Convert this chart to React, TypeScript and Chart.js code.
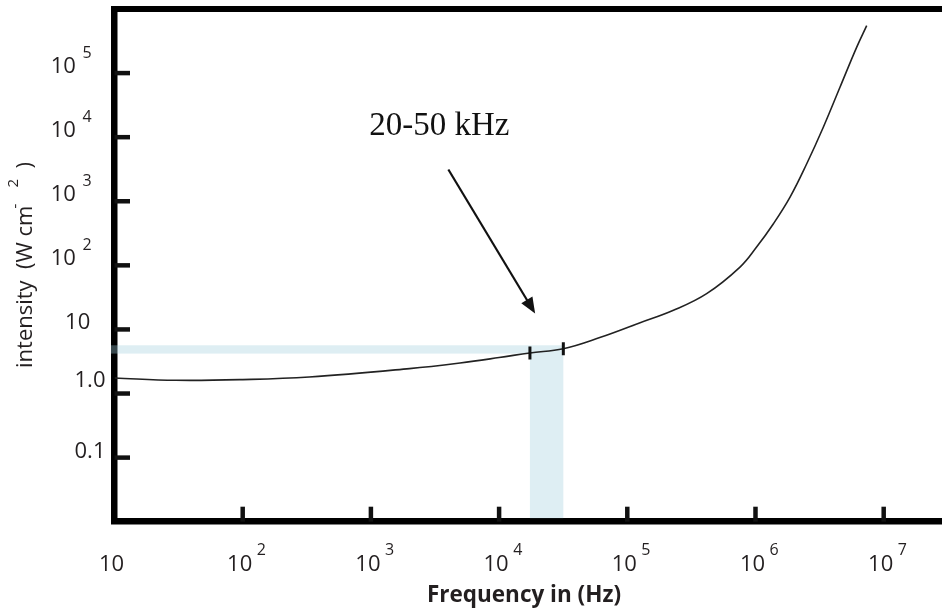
import React, { useEffect, useRef } from "react";
import { Chart, registerables } from "chart.js";

Chart.register(...registerables);

// ---- data ----
const frequencyHz = [10, 30, 100, 330, 2000, 4960, 10000, 17400, 31700, 61000, 123000, 229000, 416000, 757000, 1020000, 1380000, 1860000, 2510000, 3380000, 4560000, 6150000, 7370000];
const intensity = [1.75, 1.61, 1.65, 1.81, 2.45, 3.0, 3.64, 4.3, 5.0, 7.46, 12.5, 19.9, 36.2, 94, 193, 446, 1160, 3845, 14300, 60100, 252000, 550000];

// highlighted band (frequency edges and intensity range)
const bandFreq = [17400, 31700];
const bandEdgeIntensity = [4.3, 5.0];
const bandIntensity = [4.2, 5.66];

// axes
const xMin = 10;
const xMax = 2.85e7;
const yMin = 0.01;
const yMax = 1e6;
const xTickValues = [10, 100, 1e3, 1e4, 1e5, 1e6, 1e7];
const xTickLabels = ["10", "10^2", "10^3", "10^4", "10^5", "10^6", "10^7"];
const yTickValues = [0.1, 1, 10, 100, 1e3, 1e4, 1e5];
const yTickLabels = ["0.1", "1.0", "10", "10^2", "10^3", "10^4", "10^5"];

const xTitle = "Frequency in (Hz)";
const yTitleMain = "intensity  (W cm";
const yTitleSup = ["-", "2"];
const yTitleEnd = ")";

// annotation
const annotationText = "20-50 kHz";
const annotationTextAt = [970, 10800];
const arrowFrom = [4020, 3130];
const arrowTo = [19100, 17.7];

const INK = "#231f20";
const SANS = '"Open Sans", "Noto Sans", sans-serif';

const overlayPlugin = {
  id: "overlay",
  beforeDatasetsDraw(chart: any) {
    const { ctx, chartArea: a, scales } = chart;
    const x = scales.x;
    const y = scales.y;
    ctx.save();
    // top frame line
    ctx.strokeStyle = "#000";
    ctx.lineWidth = 6;
    ctx.beginPath();
    ctx.moveTo(a.left - 3, a.top);
    ctx.lineTo(a.right, a.top);
    ctx.stroke();
    // inward ticks
    ctx.lineWidth = 4.5;
    ctx.strokeStyle = "#111";
    yTickValues.forEach((v) => {
      const py = y.getPixelForValue(v);
      ctx.beginPath();
      ctx.moveTo(a.left, py);
      ctx.lineTo(a.left + 15.5, py);
      ctx.stroke();
    });
    xTickValues.forEach((v) => {
      if (v <= xMin) return;
      const px = x.getPixelForValue(v);
      ctx.beginPath();
      ctx.moveTo(px, a.bottom);
      ctx.lineTo(px, a.bottom - 15);
      ctx.stroke();
    });
    // band
    ctx.fillStyle = "rgba(160,205,222,0.35)";
    const yTop = y.getPixelForValue(bandIntensity[1]);
    const yBot = y.getPixelForValue(bandIntensity[0]);
    const xL = x.getPixelForValue(bandFreq[0]);
    const xR = x.getPixelForValue(bandFreq[1]);
    const left = a.left - 3.5;
    ctx.fillRect(left, yTop, xL - left, yBot - yTop);
    ctx.fillRect(xL, yTop, xR - xL, a.bottom - 3.5 - yTop);
    ctx.restore();
  },
  afterDraw(chart: any) {
    const { ctx, chartArea: a, scales } = chart;
    const x = scales.x;
    const y = scales.y;
    ctx.save();
    ctx.fillStyle = INK;
    ctx.textBaseline = "alphabetic";

    // x tick labels
    xTickValues.forEach((v, i) => {
      const [base, exp] = xTickLabels[i].split("^");
      const px = x.getPixelForValue(v) - 3;
      ctx.font = `22px ${SANS}`;
      ctx.textAlign = "center";
      const bw = ctx.measureText(base).width;
      ctx.fillText(base, px, a.bottom + 49.3);
      if (exp) {
        ctx.font = `16px ${SANS}`;
        ctx.textAlign = "left";
        ctx.fillText(exp, px + bw / 2 + 4.5, a.bottom + 33.3);
      }
    });

    // y tick labels
    yTickValues.forEach((v, i) => {
      const label = yTickLabels[i];
      const [base, exp] = label.split("^");
      let py = y.getPixelForValue(v);
      if (label === "1.0") py -= 7;
      let cx: number;
      if (exp) cx = a.left - 51.2;
      else if (label === "10") cx = a.left - 36.8;
      else cx = a.left - 24.5;
      ctx.font = `22px ${SANS}`;
      ctx.textAlign = "center";
      const bw = ctx.measureText(base).width;
      ctx.fillText(base, cx, py);
      if (exp) {
        ctx.font = `16px ${SANS}`;
        ctx.textAlign = "left";
        ctx.fillText(exp, cx + bw / 2 + 6.5, py - 15);
      }
    });

    // x title
    ctx.font = `bold 22.5px ${SANS}`;
    ctx.textAlign = "center";
    ctx.fillText(xTitle, 524, a.bottom + 80);

    // y title (rotated)
    ctx.save();
    ctx.translate(31.7, 368);
    ctx.rotate(-Math.PI / 2);
    ctx.textAlign = "left";
    ctx.font = `22px ${SANS}`;
    ctx.fillText(yTitleMain, 0, 0);
    const w = ctx.measureText(yTitleMain).width;
    ctx.font = `15px ${SANS}`;
    ctx.fillText(yTitleSup[0], w - 3, -12);
    ctx.fillText(yTitleSup[1], w + 18, -13.5);
    ctx.font = `22px ${SANS}`;
    ctx.fillText(yTitleEnd, w + 37, 0);
    ctx.restore();

    // annotation text
    ctx.font = '33px "Liberation Serif", serif';
    ctx.textAlign = "left";
    ctx.fillStyle = "#111";
    ctx.fillText(annotationText, x.getPixelForValue(annotationTextAt[0]), y.getPixelForValue(annotationTextAt[1]));

    // arrow
    const x0 = x.getPixelForValue(arrowFrom[0]);
    const y0 = y.getPixelForValue(arrowFrom[1]);
    const x1 = x.getPixelForValue(arrowTo[0]);
    const y1 = y.getPixelForValue(arrowTo[1]);
    const ang = Math.atan2(y1 - y0, x1 - x0);
    const headLen = 16;
    const headHalf = 6.5;
    const bx = x1 - Math.cos(ang) * headLen;
    const by = y1 - Math.sin(ang) * headLen;
    ctx.strokeStyle = "#111";
    ctx.lineWidth = 2.2;
    ctx.beginPath();
    ctx.moveTo(x0, y0);
    ctx.lineTo(bx + Math.cos(ang) * 2, by + Math.sin(ang) * 2);
    ctx.stroke();
    ctx.beginPath();
    ctx.moveTo(x1, y1);
    ctx.lineTo(bx - Math.sin(ang) * headHalf, by + Math.cos(ang) * headHalf);
    ctx.lineTo(bx + Math.sin(ang) * headHalf, by - Math.cos(ang) * headHalf);
    ctx.closePath();
    ctx.fill();
    ctx.restore();
  },
};

export default function App() {
  const canvasRef = useRef<HTMLCanvasElement | null>(null);

  useEffect(() => {
    const canvas = canvasRef.current;
    if (!canvas) return;
    const curve = frequencyHz.map((f, i) => ({ x: f, y: intensity[i] }));
    const marks = bandFreq.map((f, i) => ({ x: f, y: bandEdgeIntensity[i] }));
    const chart = new Chart(canvas, {
      type: "line",
      data: {
        datasets: [
          {
            label: "band edges",
            data: marks,
            showLine: false,
            pointStyle: "line",
            pointRotation: 90,
            pointRadius: 6.5,
            pointHoverRadius: 6.5,
            pointBorderWidth: 3,
            pointBorderColor: "#111",
            pointBackgroundColor: "#111",
          },
          {
            label: "intensity",
            data: curve,
            borderColor: "#222",
            borderWidth: 1.6,
            pointRadius: 0,
            pointHoverRadius: 0,
            tension: 0.4,
            fill: false,
          },
        ],
      },
      options: {
        responsive: false,
        animation: false,
        events: [],
        layout: { autoPadding: false, padding: { left: 114.5, top: 9, right: 0, bottom: 86.3 } },
        plugins: { legend: { display: false }, tooltip: { enabled: false } },
        scales: {
          x: {
            type: "logarithmic",
            min: xMin,
            max: xMax,
            grid: { display: false, drawTicks: false },
            ticks: { display: false },
            border: { display: true, width: 6.5, color: "#000" },
            title: { display: false },
          },
          y: {
            type: "logarithmic",
            min: yMin,
            max: yMax,
            grid: { display: false, drawTicks: false },
            ticks: { display: false },
            border: { display: true, width: 6.5, color: "#000" },
            title: { display: false },
          },
        },
      },
      plugins: [overlayPlugin],
    });
    return () => chart.destroy();
  }, []);

  return (
    <div style={{ position: "absolute", left: 0, top: 0, width: 942, height: 608, background: "#fff" }}>
      <canvas ref={canvasRef} width={942} height={608} style={{ display: "block", width: 942, height: 608 }} />
    </div>
  );
}
